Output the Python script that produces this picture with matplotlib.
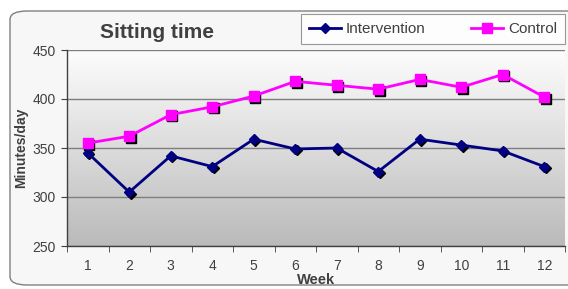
import numpy as np
import matplotlib.pyplot as plt
import matplotlib.transforms as mtransforms
from matplotlib.patches import FancyBboxPatch
from matplotlib.colors import LinearSegmentedColormap

plt.rcParams['font.family'] = ['Liberation Sans', 'DejaVu Sans']

weeks = list(range(1, 13))
intervention = [345, 305, 342, 331, 359, 349, 350, 326, 359, 353, 347, 331]
control = [355, 362, 384, 392, 403, 418, 414, 410, 420, 412, 425, 402]
y_ticks = [250, 300, 350, 400, 450]

text_color = '#404040'
int_color = '#000080'
ctl_color = '#ff00ff'

fig = plt.figure(figsize=(5.68, 2.89), dpi=100)
fig.patch.set_facecolor('white')

# Rounded outer frame
frame = FancyBboxPatch((10 / 568, 4 / 289), 620 / 568, 274 / 289,
                       boxstyle='round,pad=0,rounding_size=0.03',
                       transform=fig.transFigure, facecolor='#f7f7f7',
                       edgecolor='#808080', linewidth=1.0, zorder=-5)
fig.patches.append(frame)

ax = fig.add_axes([67 / 568, 43 / 289, 498 / 568, 196 / 289])
ax.set_facecolor('none')

# Vertical gradient in the plot area
cmap = LinearSegmentedColormap.from_list('bg', ['#fdfdfd', '#bababa'])
grad = np.linspace(0, 1, 256).reshape(-1, 1)
ax.imshow(grad, cmap=cmap, aspect='auto', extent=[0, 1, 0, 1],
          transform=ax.transAxes, zorder=0)

ax.set_xlim(0.5, 12.5)
ax.set_ylim(250, 450)
ax.set_yticks(y_ticks)
for v in y_ticks:
    ax.axhline(v, color='#7f7f7f', linewidth=1.0, zorder=1)

# Markers with a small black drop shadow
shadow = mtransforms.offset_copy(ax.transData, fig=fig, x=1.5, y=-1.5, units='dots')
ax.plot(weeks, intervention, 'D', color='black', markersize=5.5, transform=shadow, zorder=2)
ax.plot(weeks, control, 's', color='black', markersize=6.5, transform=shadow, zorder=2)

ax.plot(weeks, intervention, '-D', color=int_color, linewidth=2, markersize=5.5,
        label='Intervention', zorder=3)
ax.plot(weeks, control, '-s', color=ctl_color, linewidth=2, markersize=6.5,
        label='Control', zorder=3)

ax.set_xticks(weeks)
ax.set_xticks(np.arange(0.5, 13, 1), minor=True)
ax.tick_params(axis='x', which='major', length=0, pad=9, labelsize=10, labelcolor=text_color)
ax.tick_params(axis='x', which='minor', length=4, color='#404040', direction='out')
ax.tick_params(axis='y', length=4, color='#404040', labelsize=10, labelcolor=text_color, pad=4)

for side in ['top', 'right']:
    ax.spines[side].set_visible(False)
for side in ['left', 'bottom']:
    ax.spines[side].set_color('#404040')
    ax.spines[side].set_linewidth(1.0)

ax.set_xlabel('Week', fontsize=10.5, fontweight='bold', color=text_color, labelpad=0)
ax.set_ylabel('Minutes/day', fontsize=10, fontweight='bold', color=text_color, labelpad=3)

fig.text(157 / 568, 1 - 33 / 289, 'Sitting time', fontsize=15, fontweight='bold',
         color=text_color, ha='center', va='center')

leg = fig.legend(loc='center', bbox_to_anchor=(433 / 568, 1 - 29 / 289), ncol=2,
                 fontsize=11, frameon=True, fancybox=False, edgecolor='#808080',
                 facecolor='white', columnspacing=3.0, handlelength=2.1,
                 handletextpad=0.3, borderpad=0.55, borderaxespad=0,
                 labelcolor=text_color)
leg.get_frame().set_linewidth(0.8)

fig.savefig('out.png', dpi=100)
